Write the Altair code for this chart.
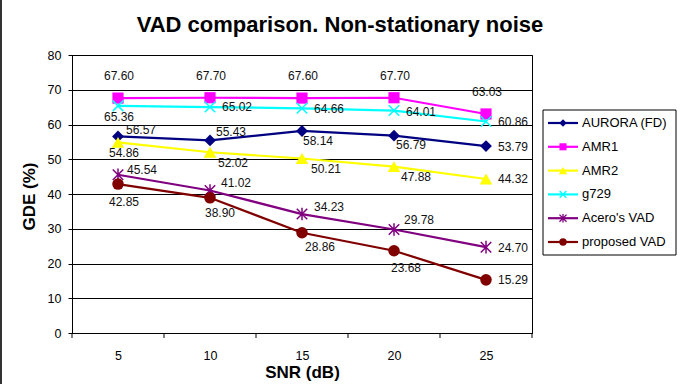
import altair as alt
import pandas as pd

# ---------------- data ----------------
snr = [5, 10, 15, 20, 25]
series = ["AURORA (FD)", "AMR1", "AMR2", "g729", "Acero's VAD", "proposed VAD"]
aurora = [56.57, 55.43, 58.14, 56.79, 53.79]
amr1 = [67.60, 67.70, 67.60, 67.70, 63.03]
amr2 = [54.86, 52.02, 50.21, 47.88, 44.32]
g729 = [65.36, 65.02, 64.66, 64.01, 60.86]
acero = [45.54, 41.02, 34.23, 29.78, 24.70]
proposed = [42.85, 38.90, 28.86, 23.68, 15.29]
values = [aurora, amr1, amr2, g729, acero, proposed]
y_ticks = [0, 10, 20, 30, 40, 50, 60, 70, 80]
title_text = "VAD comparison. Non-stationary noise"

# ---------------- styles ----------------
W, H = 460, 278
colors = ["#000080", "#FF00FF", "#FFFF00", "#00FFFF", "#800080", "#800000"]
X_PATH = "M-1,-1L1,1M-1,1L1,-1"
STAR_PATH = "M-1,-1L1,1M-1,1L1,-1M0,-1.2L0,1.2"
shapes = ["diamond", "square", "triangle-up", X_PATH, STAR_PATH, "circle"]
filled = [True, True, True, False, False, True]
sizes = [140, 125, 160, 110, 110, 133]
leg_sizes = [55, 50, 70, 45, 50, 55]
# label offsets in pixels (left edge / vertical centre relative to the point)
label_dx = [[8, 6, 1, 2, 12], [-14, -14, -14, -14, -14], [-9, 8, 9, 7, 12],
            [-14, 12, 12, 12, 12], [9, 11, 12, 10, 12], [-9, -5, 3, -3, 12]]
label_dy = [[-6, -8, 10, 9, 1], [-22, -22, -22, -22, -22], [11, 11, 10, 10, 0],
            [11, 0, 1, 1, 0], [-5, -7, -7, -10, 1], [18, 15, 14, 17, 0]]

FONT = "Liberation Sans"

rows = []
for si, s in enumerate(series):
    for pi, x in enumerate(snr):
        v = values[si][pi]
        rows.append({
            "series": s, "snr": x, "value": v,
            "label": f"{v:.2f}",
            "lx": x + label_dx[si][pi] * 25.0 / W,
            "ly": v - label_dy[si][pi] * 80.0 / H,
        })
df = pd.DataFrame(rows)
leg_df = pd.DataFrame({"series": series, "idx": list(range(len(series)))})

xs = alt.Scale(domain=[2.5, 27.5], nice=False, zero=False)
ys = alt.Scale(domain=[0, 80], nice=False)
leg_ys = alt.Scale(domain=[0, 5], range=[68, 187])

x_axis = alt.Axis(values=snr, ticks=False, tickSize=0, labelPadding=26,
                  labelBaseline="alphabetic", labelFontSize=12.5, labelFont=FONT,
                  labelColor="black", domainColor="black", grid=False,
                  title="SNR (dB)", titleFont=FONT, titleFontSize=17, titleFontWeight="bold",
                  titleX=230, titleY=44.5, titleAlign="center", titleBaseline="alphabetic",
                  titleColor="black")
y_axis = alt.Axis(values=y_ticks, tickSize=4, labelPadding=7, labelFontSize=12.5,
                  labelFont=FONT, labelColor="black", tickColor="black",
                  domainColor="black", grid=True, gridColor="black", gridWidth=1,
                  title="GDE (%)", titleFont=FONT, titleFontSize=17, titleFontWeight="bold",
                  titleX=-37.5, titleY=141, titleAngle=-90, titleAlign="center",
                  titleBaseline="alphabetic", titleColor="black")

layers = []
for si, s in enumerate(series):
    sub = df[df["series"] == s]
    first = si == 0
    line = alt.Chart(sub).mark_line(color=colors[si], strokeWidth=2.2).encode(
        x=alt.X("snr:Q", scale=xs, axis=x_axis if first else None),
        y=alt.Y("value:Q", scale=ys, axis=y_axis if first else None),
    )
    if filled[si]:
        pt = alt.Chart(sub).mark_point(shape=shapes[si], filled=True, size=sizes[si],
                                       color=colors[si], opacity=1)
    else:
        pt = alt.Chart(sub).mark_point(shape=shapes[si], filled=False, size=sizes[si],
                                       color=colors[si], strokeWidth=1.5, opacity=1)
    pt = pt.encode(x=alt.X("snr:Q", scale=xs, axis=None),
                   y=alt.Y("value:Q", scale=ys, axis=None))
    layers += [line, pt]

labels = alt.Chart(df).mark_text(align="left", baseline="middle", fontSize=12,
                                 font=FONT, color="#111").encode(
    x=alt.X("lx:Q", scale=xs, axis=None),
    y=alt.Y("ly:Q", scale=ys, axis=None),
    text="label:N",
)

bounds = pd.DataFrame({"b": [2.5 + 5 * i for i in range(6)]})
ticks = alt.Chart(bounds).mark_rule(color="black", strokeWidth=1).encode(
    x=alt.X("b:Q", scale=xs, axis=None), y=alt.value(H), y2=alt.value(H + 5))

title = alt.Chart(pd.DataFrame({"t": [title_text]})).mark_text(
    align="center", baseline="alphabetic", fontSize=22, fontWeight="bold",
    font=FONT, color="black").encode(text="t:N", x=alt.value(268), y=alt.value(-23.5))

left_border = alt.Chart(pd.DataFrame({"k": [0]})).mark_rule(
    color="#333", strokeWidth=2).encode(x=alt.value(-71), y=alt.value(-55), y2=alt.value(H + 51))

box = alt.Chart(pd.DataFrame({"k": [0]})).mark_rect(
    fill="white", stroke="black", strokeWidth=1).encode(
    x=alt.value(471), x2=alt.value(604), y=alt.value(55), y2=alt.value(200))

leg_layers = [box]
for si, s in enumerate(series):
    sub = leg_df[leg_df["series"] == s]
    lr = alt.Chart(sub).mark_rule(color=colors[si], strokeWidth=2.2).encode(
        x=alt.value(476), x2=alt.value(506), y=alt.Y("idx:Q", scale=leg_ys, axis=None))
    if filled[si]:
        lp = alt.Chart(sub).mark_point(shape=shapes[si], filled=True, size=leg_sizes[si],
                                       color=colors[si], opacity=1)
    else:
        lp = alt.Chart(sub).mark_point(shape=shapes[si], filled=False, size=leg_sizes[si],
                                       color=colors[si], strokeWidth=1.3, opacity=1)
    lp = lp.encode(x=alt.value(491), y=alt.Y("idx:Q", scale=leg_ys, axis=None))
    leg_layers += [lr, lp]
leg_text = alt.Chart(leg_df).mark_text(align="left", baseline="middle", fontSize=13,
                                       font=FONT, color="black").encode(
    x=alt.value(510), y=alt.Y("idx:Q", scale=leg_ys, axis=None), text="series:N")
leg_layers.append(leg_text)

chart = alt.layer(*layers, labels, ticks, title, left_border, *leg_layers).resolve_scale(
    x="independent", y="independent"
).properties(
    width=W, height=H,
    autosize=alt.AutoSizeParams(type="none"),
    padding={"left": 72, "top": 55, "right": 151, "bottom": 51},
    background="white",
).configure_view(stroke="black", strokeWidth=1)

chart.save("out.html", embed_options={"renderer": "svg", "actions": False})
